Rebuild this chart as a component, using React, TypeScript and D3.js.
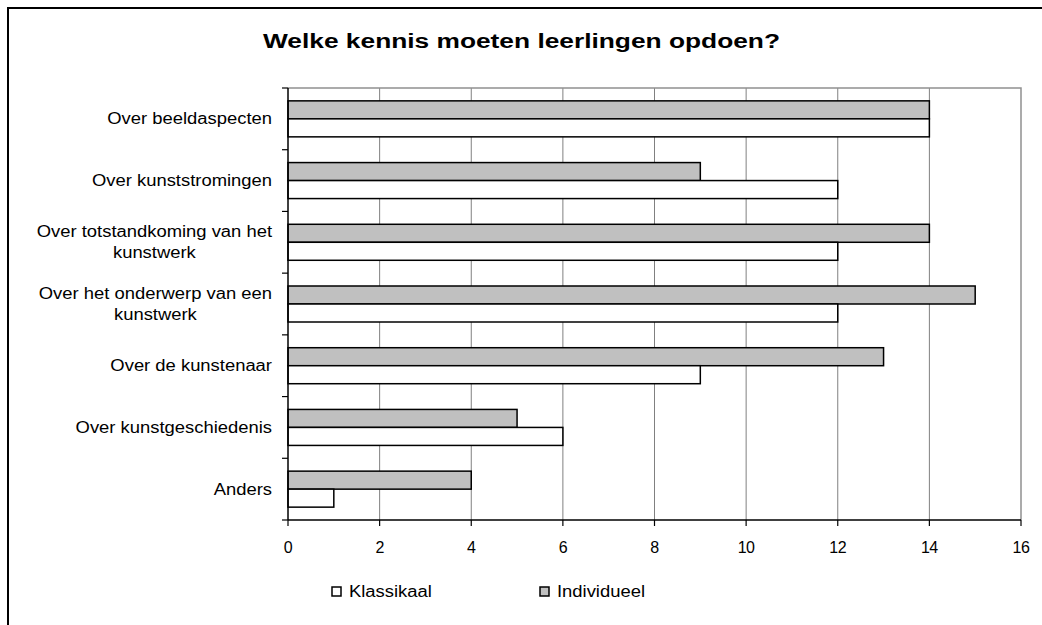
import React, { useEffect, useRef } from "react";
import * as d3 from "d3";

const categories = [
  "Over beeldaspecten",
  "Over kunststromingen",
  "Over totstandkoming van het|kunstwerk",
  "Over het onderwerp van een|kunstwerk",
  "Over de kunstenaar",
  "Over kunstgeschiedenis",
  "Anders",
];
const klassikaal = [14, 12, 12, 12, 9, 6, 1];
const individueel = [14, 9, 14, 15, 13, 5, 4];
const xTicks = [0, 2, 4, 6, 8, 10, 12, 14, 16];
const seriesNames = ["Klassikaal", "Individueel"];
const seriesColors = ["#ffffff", "#c0c0c0"];
const title = "Welke kennis moeten leerlingen opdoen?";

const FONT = "Arial, 'Liberation Sans', sans-serif";

function stretch(t: d3.Selection<SVGTextElement, unknown, null, undefined>, f: number) {
  const w = (t.node() as SVGTextElement).getComputedTextLength();
  t.attr("textLength", w * f).attr("lengthAdjust", "spacingAndGlyphs");
  return w * f;
}

export default function App() {
  const ref = useRef<SVGSVGElement>(null);

  useEffect(() => {
    const svg = d3.select(ref.current);
    svg.selectAll("*").remove();

    const left = 288, right = 1021, top = 88, bottom = 520;
    const x = d3.scaleLinear().domain([0, 16]).range([left, right]);
    const y = d3.scaleBand<number>().domain(d3.range(categories.length)).range([top, bottom]);
    const bw = y.bandwidth();
    const barH = 18;
    const groupOff = (bw - 2 * barH) / 2;

    svg.append("rect").attr("x", 8).attr("y", 8).attr("width", 1100).attr("height", 700)
      .attr("fill", "#fff").attr("stroke", "#000").attr("stroke-width", 2);

    const tt = svg.append("text").attr("x", 263).attr("y", 48)
      .attr("font-family", FONT).attr("font-size", 20).attr("font-weight", "bold")
      .text(title) as any;
    tt.attr("textLength", 517).attr("lengthAdjust", "spacingAndGlyphs");

    svg.append("g").selectAll("line").data(xTicks.filter((t) => t > 0 && t < 16)).join("line")
      .attr("x1", (d) => x(d)).attr("x2", (d) => x(d)).attr("y1", top).attr("y2", bottom)
      .attr("stroke", "#808080").attr("stroke-width", 1);

    svg.append("path").attr("d", `M${left},${top}H${right}V${bottom}`)
      .attr("fill", "none").attr("stroke", "#909090").attr("stroke-width", 1.5);

    const g = svg.append("g");
    categories.forEach((_, i) => {
      const y0 = (y(i) as number) + groupOff;
      g.append("rect").attr("x", x(0)).attr("y", y0).attr("width", x(individueel[i]) - x(0)).attr("height", barH)
        .attr("fill", seriesColors[1]).attr("stroke", "#000").attr("stroke-width", 1.5);
      g.append("rect").attr("x", x(0)).attr("y", y0 + barH).attr("width", x(klassikaal[i]) - x(0)).attr("height", barH)
        .attr("fill", seriesColors[0]).attr("stroke", "#000").attr("stroke-width", 1.5);
    });

    svg.append("line").attr("x1", left).attr("x2", left).attr("y1", top).attr("y2", bottom)
      .attr("stroke", "#000").attr("stroke-width", 1.5);
    svg.append("line").attr("x1", left).attr("x2", right).attr("y1", bottom).attr("y2", bottom)
      .attr("stroke", "#000").attr("stroke-width", 1.5);
    svg.append("g").selectAll("line").data(d3.range(categories.length + 1)).join("line")
      .attr("x1", left - 6).attr("x2", left).attr("y1", (d) => top + d * bw).attr("y2", (d) => top + d * bw)
      .attr("stroke", "#000").attr("stroke-width", 1.2);
    svg.append("g").selectAll("line").data(xTicks).join("line")
      .attr("x1", (d) => x(d)).attr("x2", (d) => x(d)).attr("y1", bottom).attr("y2", bottom + 6)
      .attr("stroke", "#000").attr("stroke-width", 1.2);
    svg.append("g").selectAll("text").data(xTicks).join("text")
      .attr("x", (d) => x(d)).attr("y", 553).attr("text-anchor", "middle")
      .attr("font-family", FONT).attr("font-size", 16).attr("letter-spacing", -0.5).text((d) => String(d));

    const labelRight = 272;
    const F = 1.15;
    categories.forEach((c, i) => {
      const lines = c.split("|");
      const cy = (y(i) as number) + bw / 2;
      const lh = 21;
      const tg = svg.append("g");
      const texts = lines.map((ln, k) =>
        tg.append("text").attr("font-family", FONT).attr("font-size", 16)
          .attr("y", cy + (k - (lines.length - 1) / 2) * lh + 5.5).text(ln) as any
      );
      const widths = texts.map((t) => stretch(t, F));
      const maxW = Math.max(...widths);
      const cx = labelRight - maxW / 2;
      texts.forEach((t, k) => t.attr("x", cx - widths[k] / 2));
    });

    const legX = [332, 540];
    seriesNames.forEach((s, i) => {
      svg.append("rect").attr("x", legX[i]).attr("y", 587).attr("width", 9).attr("height", 9)
        .attr("fill", seriesColors[i]).attr("stroke", "#000").attr("stroke-width", 1.5);
      const t = svg.append("text").attr("x", legX[i] + 17).attr("y", 597).attr("font-family", FONT)
        .attr("font-size", 16).text(s) as any;
      stretch(t, 1.15);
    });
  }, []);

  return (
    <svg ref={ref} width={1042} height={625} style={{ position: "absolute", left: 0, top: 0 }} />
  );
}
